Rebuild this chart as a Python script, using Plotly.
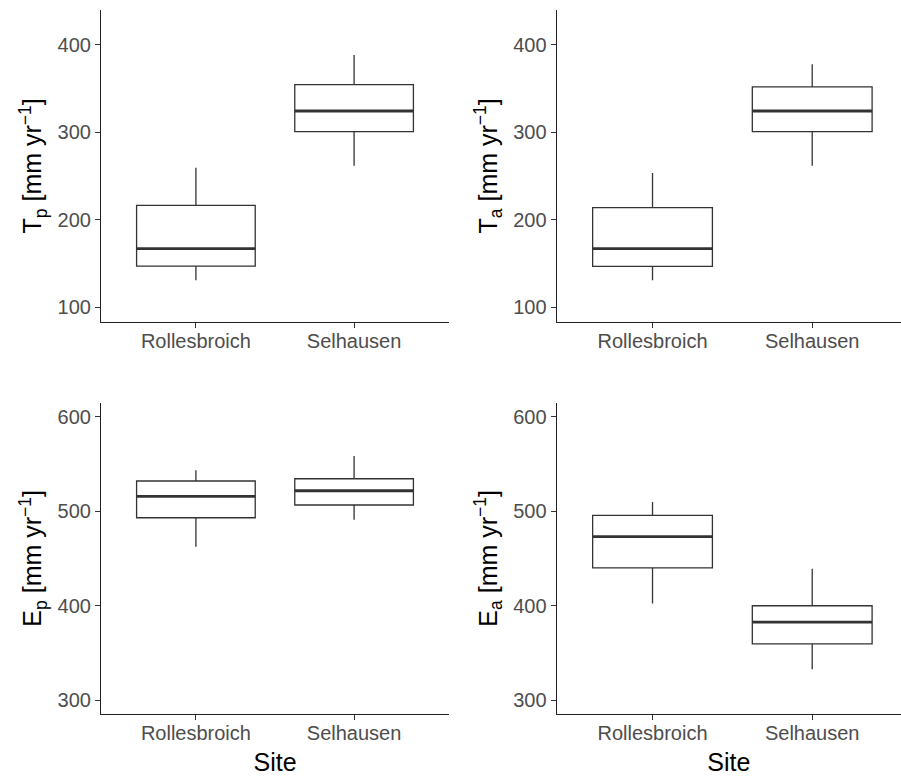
import plotly.graph_objects as go

sites = ["Rollesbroich", "Selhausen"]
site_pos = [1, 2]

# [lower whisker, Q1, median, Q3, upper whisker] per site
tp_lower = [131, 262]
tp_q1 = [147, 301]
tp_median = [167, 324.5]
tp_q3 = [216.6, 354.6]
tp_upper = [259.6, 388.6]

ta_lower = [131, 262]
ta_q1 = [146.8, 301]
ta_median = [167, 324.5]
ta_q3 = [213.9, 352]
ta_upper = [253.5, 378]

ep_lower = [462.3, 491]
ep_q1 = [493, 506.5]
ep_median = [515.7, 521.6]
ep_q3 = [531.9, 534.3]
ep_upper = [543.2, 558.4]

ea_lower = [402.3, 332.7]
ea_q1 = [440, 359.5]
ea_median = [472.9, 382.5]
ea_q3 = [495.5, 399.8]
ea_upper = [509.6, 439]

panels = [
    ("T<sub>p</sub> [mm yr<sup>\u22121</sup>]", tp_lower, tp_q1, tp_median, tp_q3, tp_upper),
    ("T<sub>a</sub> [mm yr<sup>\u22121</sup>]", ta_lower, ta_q1, ta_median, ta_q3, ta_upper),
    ("E<sub>p</sub> [mm yr<sup>\u22121</sup>]", ep_lower, ep_q1, ep_median, ep_q3, ep_upper),
    ("E<sub>a</sub> [mm yr<sup>\u22121</sup>]", ea_lower, ea_q1, ea_median, ea_q3, ea_upper),
]

W, H = 901, 776
BOX_W = 0.75
LINE_C = "#333333"
FONT = "Liberation Sans, Arial, sans-serif"

# pixel layout of the panels
x_doms = [(101 / W, 449 / W), (556.7 / W, 1.0)]
y_doms = [((H - 321.7) / H, (H - 10) / H), ((H - 714) / H, (H - 402.7) / H)]
x_ranges = [[0.4, 2.6], [0.4, 2.556]]
y_ranges = [[83.5, 440], [285.2, 614.8]]
y_ticks = [[100, 200, 300, 400], [300, 400, 500, 600]]

fig = go.Figure()
layout = dict(
    width=W, height=H,
    margin=dict(l=0, r=0, t=0, b=0),
    paper_bgcolor="white", plot_bgcolor="white",
    showlegend=False,
    font=dict(family=FONT),
)

for i, (title, lo, q1, med, q3, up) in enumerate(panels):
    row, col = divmod(i, 2)
    n = i + 1
    xa = "x" if n == 1 else f"x{n}"
    ya = "y" if n == 1 else f"y{n}"
    fig.add_trace(go.Box(
        x=site_pos, q1=q1, median=med, q3=q3,
        lowerfence=lo, upperfence=up,
        width=BOX_W, whiskerwidth=0,
        fillcolor="white",
        line=dict(color=LINE_C, width=1.3),
        xaxis=xa, yaxis=ya, hoverinfo="skip",
        boxpoints=False,
    ))
    for p, m in zip(site_pos, med):
        fig.add_trace(go.Scatter(
            x=[p - BOX_W / 2, p + BOX_W / 2], y=[m, m],
            mode="lines", line=dict(color=LINE_C, width=2.8),
            xaxis=xa, yaxis=ya, hoverinfo="skip",
        ))
    xkey = "xaxis" if n == 1 else f"xaxis{n}"
    ykey = "yaxis" if n == 1 else f"yaxis{n}"
    layout[xkey] = dict(
        domain=list(x_doms[col]), range=x_ranges[col], anchor=ya,
        tickmode="array", tickvals=site_pos, ticktext=sites,
        showline=True, linecolor="#222222", linewidth=1.2,
        ticks="outside", ticklen=5, tickcolor=LINE_C, tickwidth=1.2,
        ticklabelstandoff=-4,
        showgrid=False, zeroline=False,
        tickfont=dict(size=20, color="#4D4D4D", family=FONT),
        title=dict(text="Site" if row == 1 else "", font=dict(size=25, color="black", family=FONT), standoff=10),
        fixedrange=True,
    )
    layout[ykey] = dict(
        domain=list(y_doms[row]), range=y_ranges[row], anchor=xa,
        tickmode="array", tickvals=y_ticks[row],
        showline=True, linecolor="#222222", linewidth=1.2,
        ticks="outside", ticklen=5, tickcolor=LINE_C, tickwidth=1.2,
        showgrid=False, zeroline=False,
        tickfont=dict(size=20, color="#4D4D4D", family=FONT),
        title=dict(text=title, font=dict(size=25, color="black", family=FONT), standoff=8),
        fixedrange=True,
    )

fig.update_layout(**layout)
fig.write_html("out.html")
